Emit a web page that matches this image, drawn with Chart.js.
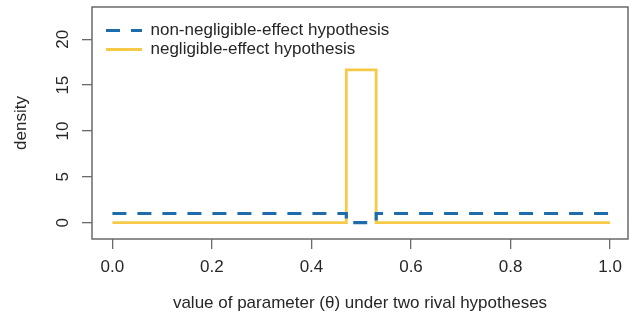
<!DOCTYPE html>
<html lang="en">
<head>
<meta charset="UTF-8">
<title>Two rival hypotheses</title>
<script src="https://cdn.jsdelivr.net/npm/chart.js"></script>
<style>
  html, body { margin: 0; padding: 0; background: #fff; }
  #wrap { width: 631px; height: 318px; position: relative; }
</style>
</head>
<body>
<div id="wrap"><canvas id="chart"></canvas></div>
<script>
// step densities
const thetaAlt = [0, 0.47, 0.47, 0.53, 0.53, 1];
const densityAlt = [1, 1, 0, 0, 1, 1];
const thetaNull = [0, 0.47, 0.47, 0.53, 0.53, 1];
const densityNull = [0, 0, 16.67, 16.67, 0, 0];

const xTicks = [0, 0.2, 0.4, 0.6, 0.8, 1.0];
const yTicks = [0, 5, 10, 15, 20];
const labels = ['non-negligible-effect hypothesis', 'negligible-effect hypothesis'];

const textColor = '#262626';
const axisColor = '#6a6a6a';
const font = { family: "'Liberation Sans', Arial, sans-serif", size: 17 };

const toPoints = (xs, ys) => xs.map((x, i) => ({ x: x, y: ys[i] }));

// frame around the plot region, like R's box()
const boxPlugin = {
  id: 'box',
  beforeDatasetsDraw(chart) {
    const a = chart.chartArea, ctx = chart.ctx;
    ctx.save();
    ctx.strokeStyle = axisColor;
    ctx.lineWidth = 1.5;
    ctx.strokeRect(a.left, a.top, a.right - a.left, a.bottom - a.top);
    ctx.restore();
  }
};

// legend sits inside the plot, nudge it to the top-left corner
const legendNudge = {
  id: 'legendNudge',
  afterLayout(chart) {
    const lg = chart.legend;
    if (!lg) return;
    const w = lg.width, h = lg.height;
    lg.left = chart.chartArea.left + 12;
    lg.top = 20;
    lg.right = lg.left + w;
    lg.bottom = lg.top + h;
  }
};

const noEdgePadding = s => { s.paddingTop = 0; s.paddingBottom = 0; s.paddingLeft = 0; s.paddingRight = 0; };

new Chart(document.getElementById('chart'), {
  type: 'line',
  data: {
    datasets: [
      {
        label: labels[0],
        data: toPoints(thetaAlt, densityAlt),
        borderColor: '#1d6cab',
        backgroundColor: '#1d6cab',
        borderWidth: 3.2,
        borderDash: [14, 11],
        pointRadius: 0,
        tension: 0,
        fill: false
      },
      {
        label: labels[1],
        data: toPoints(thetaNull, densityNull),
        borderColor: '#f6ca47',
        backgroundColor: '#f6ca47',
        borderWidth: 2.8,
        pointRadius: 0,
        tension: 0,
        fill: false
      }
    ]
  },
  options: {
    responsive: true,
    maintainAspectRatio: false,
    animation: false,
    layout: { padding: { left: 0, right: 3, top: 7, bottom: 0 } },
    plugins: {
      tooltip: { enabled: false },
      legend: {
        position: 'chartArea',
        align: 'start',
        labels: {
          usePointStyle: true,
          pointStyle: 'line',
          pointStyleWidth: 36,
          boxHeight: 16,
          padding: 2,
          color: textColor,
          font: font,
          generateLabels(chart) {
            return chart.data.datasets.map((ds, i) => ({
              text: ds.label,
              datasetIndex: i,
              fillStyle: ds.borderColor,
              strokeStyle: ds.borderColor,
              fontColor: textColor,
              lineWidth: ds.borderWidth,
              lineDash: ds.borderDash || [],
              lineCap: 'butt',
              pointStyle: 'line',
              hidden: false
            }));
          }
        }
      }
    },
    scales: {
      x: {
        type: 'linear',
        min: -0.041,
        max: 1.036,
        afterBuildTicks: s => { s.ticks = xTicks.map(v => ({ value: v })); },
        afterFit: s => { s.height = 79; noEdgePadding(s); },
        grid: { display: true, drawOnChartArea: false, drawTicks: true, tickLength: 10, color: axisColor, lineWidth: 1.3 },
        border: { display: false },
        ticks: {
          padding: 8,
          color: textColor,
          font: font,
          maxRotation: 0,
          callback: v => Number(v).toFixed(1)
        },
        title: {
          display: true,
          text: 'value of parameter (\u03b8) under two rival hypotheses',
          color: textColor,
          font: font,
          padding: { top: 0, bottom: 4 }
        }
      },
      y: {
        type: 'linear',
        min: -1.78,
        max: 23.52,
        afterBuildTicks: s => { s.ticks = yTicks.map(v => ({ value: v })); },
        afterFit: s => { s.width = 92; noEdgePadding(s); },
        grid: { display: true, drawOnChartArea: false, drawTicks: true, tickLength: 10, color: axisColor, lineWidth: 1.3 },
        border: { display: false },
        ticks: {
          padding: 9,
          color: textColor,
          font: font,
          minRotation: 90,
          maxRotation: 90,
          crossAlign: 'center'
        },
        title: {
          display: true,
          text: 'density',
          color: textColor,
          font: font,
          padding: { top: 11, bottom: 0 }
        }
      }
    }
  },
  plugins: [boxPlugin, legendNudge]
});
</script>
</body>
</html>
